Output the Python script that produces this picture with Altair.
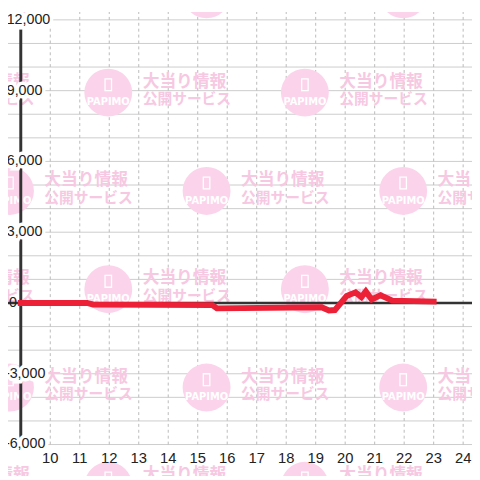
import altair as alt
import pandas as pd

# ---- data ----
line_x = [9, 11.25, 11.45, 15.5, 15.65, 19.2, 19.45, 19.65, 20.05, 20.35, 20.55, 20.7, 20.9, 21.2, 21.6, 23.0]
line_v = [0, 0, -70, -90, -230, -180, -320, -300, 300, 450, 250, 490, 150, 330, 100, 60]

x_ticks = list(range(10, 25))
y_grid = list(range(-6000, 12001, 1000))
y_ticks = [-6000, -3000, 0, 3000, 6000, 9000, 12000]
y_labels = ["-6,000", "-3,000", "0", "3,000", "6,000", "9,000", "12,000"]

# ---- geometry ----
W = H = 472
X0, X1 = 10 - 43 / 30, 10 + 429 / 30
Y0, Y1 = (296 - 472) / 0.024, 296 / 0.024

xs = alt.Scale(domain=[X0, X1], nice=False, zero=False)
ys = alt.Scale(domain=[Y0, Y1], nice=False, zero=False)

def X(f):
    return alt.X(f, scale=xs, axis=None)

def Y(f):
    return alt.Y(f, scale=ys, axis=None)

def px2x(p):
    return X0 + p / W * (X1 - X0)

def py2y(p):
    return Y1 - p / H * (Y1 - Y0)

line_df = pd.DataFrame({"x": line_x, "v": line_v})
xt_df = pd.DataFrame({"x": x_ticks, "lab": [str(t) for t in x_ticks],
                      "lo": [-6000] * len(x_ticks), "hi": [Y1] * len(x_ticks)})
yg_df = pd.DataFrame({"v": y_grid})
yl_df = pd.DataFrame({"v": y_ticks, "lab": y_labels})
yax_df = pd.DataFrame({"x": [9], "lo": [min(y_ticks)], "hi": [max(y_ticks)]})

# label groups (anchor in chart pixels, right-aligned)
groups = [
    (yl_df[(yl_df.v > 0) & (yl_df.v < 12000)], 35),
    (yl_df[yl_df.v == 12000], 43),
    (yl_df[yl_df.v < 0], 38),
    (yl_df[yl_df.v == 0], 9),
]

# watermark tiles (decoration)
wm = []
for cy in [-10, 90, 190, 290, 390, 490]:
    off = 10 if cy in (-10, 190, 390) else 110
    for k in range(-1, 3):
        cx = off + 200 * k - 8
        cyy = cy - 8
        wm.append({"cx": px2x(cx), "cy": py2y(cyy), "ty": py2y(cyy + 10),
                   "iy": py2y(cyy - 8), "tx": px2x(cx + 35),
                   "t1": py2y(cyy - 11), "t2": py2y(cyy + 7)})
wm_df = pd.DataFrame(wm)

hgrid = alt.Chart(yg_df).mark_rule(color="#cccccc", strokeWidth=1).encode(
    y=Y("v:Q"), x=alt.value(0), x2=alt.value(W))

vgrid = alt.Chart(xt_df).mark_rule(color="#bbbbbb", strokeWidth=1, strokeDash=[3, 3]).encode(
    x=X("x:Q"), y=Y("lo:Q"), y2="hi:Q")

circ = alt.Chart(wm_df).mark_circle(size=2376, color="#fbd4eb", opacity=1, clip=True).encode(
    x=X("cx:Q"), y=Y("cy:Q"))
icon = alt.Chart(wm_df).mark_point(shape="M-0.55,-1 L0.55,-1 L0.55,1 L-0.55,1 Z", size=144,
                                   filled=False, color="white", strokeWidth=1.3, opacity=1,
                                   clip=True).encode(
    x=X("cx:Q"), y=Y("iy:Q"))
papimo = alt.Chart(wm_df).mark_text(text="PAPIMO", color="white", fontSize=10, fontWeight="bold",
                                    font="DejaVu Sans", baseline="middle", clip=True).encode(
    x=X("cx:Q"), y=Y("ty:Q"))
jp1 = alt.Chart(wm_df).mark_text(text="大当り情報", color="#f7c8e2", fontSize=17, fontWeight="bold",
                                 font="Noto Sans CJK JP", align="left", baseline="middle", clip=True).encode(
    x=X("tx:Q"), y=Y("t1:Q"))
jp2 = alt.Chart(wm_df).mark_text(text="公開サービス", color="#f7c8e2", fontSize=15, fontWeight="bold",
                                 font="Noto Sans CJK JP", align="left", baseline="middle", clip=True).encode(
    x=X("tx:Q"), y=Y("t2:Q"))

zero = alt.Chart(yl_df[yl_df.v == 0]).mark_rule(color="#333333", strokeWidth=2.5).encode(
    y=Y("v:Q"), x=alt.value(0), x2=alt.value(W))

yaxis = alt.Chart(yax_df).mark_rule(color="#333333", strokeWidth=3).encode(
    x=X("x:Q"), y=Y("lo:Q"), y2="hi:Q")

line = alt.Chart(line_df).mark_line(color="#ec2036", strokeWidth=6, strokeCap="square").encode(
    x=X("x:Q"), y=Y("v:Q"))

kw = dict(fontSize=14.5, font="Liberation Sans", baseline="middle", align="right")
label_layers = []
for df, ax in groups:
    df = df.reset_index(drop=True)
    if ax > 20:
        label_layers.append(alt.Chart(df).mark_text(
            color="white", stroke="white", strokeWidth=7, **kw).encode(
            y=Y("v:Q"), x=alt.value(ax), text="lab:N"))
    label_layers.append(alt.Chart(df).mark_text(color="#222222", **kw).encode(
        y=Y("v:Q"), x=alt.value(ax), text="lab:N"))

xlab = alt.Chart(xt_df).mark_text(color="#222222", fontSize=15, font="Liberation Sans",
                                  baseline="middle", align="center").encode(
    x=X("x:Q"), y=alt.value(454), text="lab:N")

chart = alt.layer(hgrid, vgrid, circ, icon, papimo, jp1, jp2, zero, yaxis, line,
                  *label_layers, xlab).properties(
    width=W, height=H, padding=0, background="white",
    autosize=alt.AutoSizeParams(type="none")).configure_view(stroke=None)

chart.save("out.html", embed_options={"renderer": "svg", "actions": False})
